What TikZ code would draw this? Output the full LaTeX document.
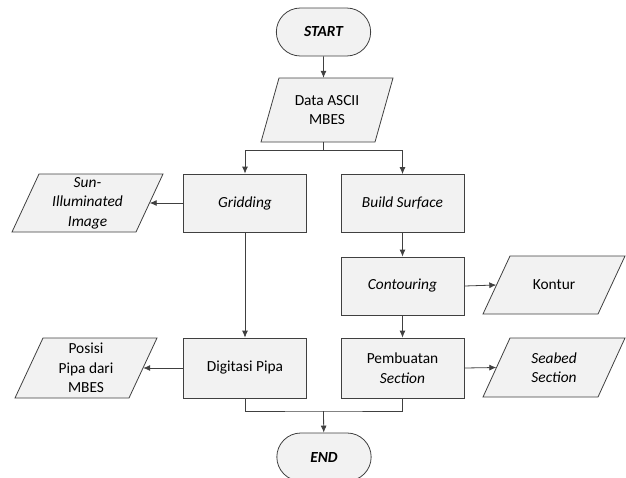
\documentclass[tikz,border=0pt]{standalone}
\usepackage{fontspec}
\setmainfont{Carlito}
\usetikzlibrary{shapes.misc,arrows.meta}
\definecolor{linec}{HTML}{404040}
\definecolor{boxfill}{HTML}{F2F2F2}
\tikzset{
  every node/.style={font=\fontsize{15.4}{19.5}\selectfont, align=center, text=black},
  procbox/.style={draw=linec, line width=0.8pt, fill=boxfill, rectangle, minimum width=123pt, minimum height=58pt, inner sep=2pt},
  iotext/.style={rectangle, draw=none, inner sep=0pt},
  ioshape/.style={draw=linec, line width=0.8pt, fill=boxfill},
  termbox/.style={draw=linec, line width=0.8pt, fill=boxfill, rounded rectangle, minimum width=101pt, minimum height=48pt, font=\fontsize{15.4}{19.5}\selectfont\bfseries\itshape},
  conn/.style={draw=linec, line width=0.8pt},
  arr/.style={conn, -{Latex[length=7pt,width=6pt]}}
}
% \iobox{name}{cx}{cy}{edge length L}{height h}{slant s}{text}
\newcommand{\iobox}[7]{%
  \path[ioshape] ({#2-#4/2-#6/2},{#3+#5/2}) -- ({#2+#4/2-#6/2},{#3+#5/2}) -- ({#2+#4/2+#6/2},{#3-#5/2}) -- ({#2-#4/2+#6/2},{#3-#5/2}) -- cycle;
  \node[iotext, minimum width=#4 pt, minimum height=#5 pt] (#1) at (#2,#3) {#7};%
}
\begin{document}
\begin{tikzpicture}[x=1pt,y=-1pt]
\useasboundingbox (0,0) rectangle (626,477);
\node[termbox] (start) at (323.5,32) {START};
\iobox{data}{327}{110}{114}{64}{18}{Data ASCII\\MBES}
\node[procbox] (grid) at (245,203) {\itshape Gridding};
\node[procbox] (build) at (402.5,203.5) {\itshape Build Surface};
\iobox{sun}{87.5}{203}{124}{58}{27}{\itshape Sun-\\\itshape Illuminated\\\itshape Image}
\node[procbox] (cont) at (402.5,286) {\itshape Contouring};
\iobox{kontur}{554}{285}{115}{58}{27}{Kontur}
\node[procbox, minimum height=60pt] (pemb) at (402.5,368) {Pembuatan\\\itshape Section};
\iobox{seabed}{554}{367.5}{115}{59}{27}{\itshape Seabed\\\itshape Section}
\node[procbox, minimum height=60pt] (dig) at (245,368) {Digitasi Pipa};
\iobox{posisi}{86}{368}{114}{60}{28}{Posisi\\Pipa dari\\MBES}
\node[termbox] (end) at (324,457) {END};
\coordinate (split) at (323.5,150);
\coordinate (merge) at (323.5,411);
\draw[arr] (start) -- (start |- data.north);
\draw[conn] (data.south -| split) -- (split);
\draw[arr] (split) -| (grid.north);
\draw[arr] (split) -| (build.north);
\draw[arr] (grid.west) -- (sun.east);
\draw[arr] (grid.south) -- (dig.north);
\draw[arr] (build.south) -- (cont.north);
\draw[arr] (cont.east) -- (kontur.west);
\draw[arr] (cont.south) -- (pemb.north);
\draw[arr] (pemb.east) -- (seabed.west);
\draw[arr] (dig.west) -- (posisi.east);
\draw[conn] (dig.south) |- (merge) -| (pemb.south);
\draw[arr] (merge) -- (end);
\end{tikzpicture}
\end{document}
